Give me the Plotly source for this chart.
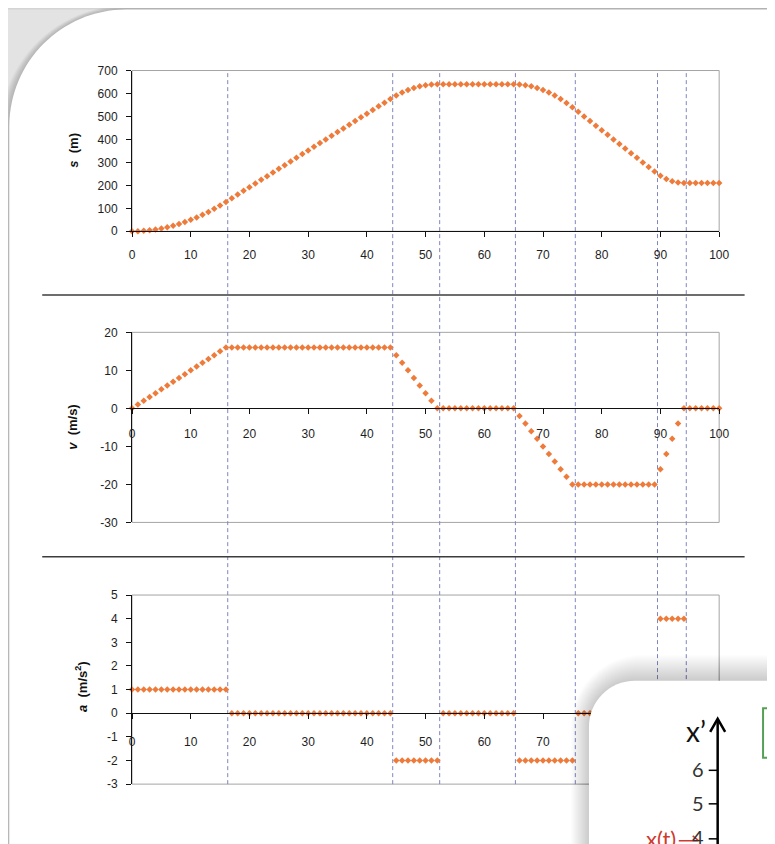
import plotly.graph_objects as go

# ---------------- data ----------------
t = list(range(101))

s = [0, 0.5, 2, 4.5, 8, 12.5, 18, 24.5, 32, 40.5, 50, 60.5, 72, 84.5, 98, 112.5, 128,
     144, 160, 176, 192, 208, 224, 240, 256, 272, 288, 304, 320, 336, 352, 368, 384,
     400, 416, 432, 448, 464, 480, 496, 512, 528, 544, 560, 576,
     591, 604, 615, 624, 631, 636, 639, 640,
     640, 640, 640, 640, 640, 640, 640, 640, 640, 640, 640, 640, 640,
     639, 636, 631, 624, 615, 604, 591, 576, 559, 540,
     520, 500, 480, 460, 440, 420, 400, 380, 360, 340, 320, 300, 280, 260,
     242, 228, 218, 212, 210,
     210, 210, 210, 210, 210, 210]

v = [0, 1, 2, 3, 4, 5, 6, 7, 8, 9, 10, 11, 12, 13, 14, 15, 16,
     16, 16, 16, 16, 16, 16, 16, 16, 16, 16, 16, 16, 16, 16, 16, 16, 16, 16, 16, 16,
     16, 16, 16, 16, 16, 16, 16, 16,
     14, 12, 10, 8, 6, 4, 2, 0,
     0, 0, 0, 0, 0, 0, 0, 0, 0, 0, 0, 0, 0,
     -2, -4, -6, -8, -10, -12, -14, -16, -18, -20,
     -20, -20, -20, -20, -20, -20, -20, -20, -20, -20, -20, -20, -20, -20,
     -16, -12, -8, -4, 0,
     0, 0, 0, 0, 0, 0]

a = [1, 1, 1, 1, 1, 1, 1, 1, 1, 1, 1, 1, 1, 1, 1, 1, 1,
     0, 0, 0, 0, 0, 0, 0, 0, 0, 0, 0, 0, 0, 0, 0, 0, 0, 0, 0, 0, 0, 0, 0, 0, 0, 0, 0, 0,
     -2, -2, -2, -2, -2, -2, -2, -2,
     0, 0, 0, 0, 0, 0, 0, 0, 0, 0, 0, 0, 0,
     -2, -2, -2, -2, -2, -2, -2, -2, -2, -2,
     0, 0, 0, 0, 0, 0, 0, 0, 0, 0, 0, 0, 0, 0,
     4, 4, 4, 4, 4,
     0, 0, 0, 0, 0, 0]

event_times = [16.3, 44.4, 52.4, 65.3, 75.5, 89.5, 94.4]

s_ticks = [0, 100, 200, 300, 400, 500, 600, 700]
v_ticks = [-30, -20, -10, 0, 10, 20]
a_ticks = [-3, -2, -1, 0, 1, 2, 3, 4, 5]
x_ticks = [0, 10, 20, 30, 40, 50, 60, 70, 80, 90, 100]
s_tick_text = ["0", "100", "200", "300", "400", "500", "600", "700"]
v_tick_text = ["-30", "-20", "-10", "0", "10", "20"]
a_tick_text = ["-3", "-2", "-1", "0", "1", "2", "3", "4", "5"]
x_tick_text = ["0", "10", "20", "30", "40", "50", "60", "70", "80", "90", "100"]

# ---------------- layout helpers ----------------
W, H = 775, 844
# the page is photographed with a small margin/scale; compensate so that
# positions given in reference-picture pixels land where they should
SX, OX = 0.9855, 9.7
SY, OY = 0.983, 14.5
def X(px):
    return ((px - OX) / SX) / W
def Y(py):
    return 1 - ((py - OY) / SY) / H

FONT = "Liberation Sans"
ORANGE = "#ef7b3b"
DASH = "#7f86bd"
FRAME = "#a4a4a4"

marker = dict(symbol="diamond", size=5, color=ORANGE, line=dict(width=0))
fig = go.Figure()
fig.add_trace(go.Scatter(x=t, y=s, mode="markers", xaxis="x", yaxis="y",
                         marker=marker, cliponaxis=False, showlegend=False))
fig.add_trace(go.Scatter(x=t, y=v, mode="markers", xaxis="x2", yaxis="y2",
                         marker=marker, cliponaxis=False, showlegend=False))
fig.add_trace(go.Scatter(x=t, y=a, mode="markers", xaxis="x3", yaxis="y3",
                         marker=marker, cliponaxis=False, showlegend=False))

xdom = [X(131), X(719.5)]
tickfont = dict(family=FONT, size=12, color="#1e1e1e")

def xax(anchor, position=None, standoff=10):
    d = dict(domain=xdom, range=[0, 100], tickvals=x_ticks, ticktext=x_tick_text,
             showline=True, linecolor="#111",
             linewidth=1, ticks="outside", ticklen=5, tickcolor="#111", showgrid=False,
             zeroline=False, tickfont=tickfont, ticklabelstandoff=standoff, fixedrange=True)
    if position is None:
        d["anchor"] = anchor
    else:
        d["anchor"] = "free"
        d["position"] = position
    return d

def yax(anchor, top, bottom, rng, ticks, texts):
    return dict(domain=[Y(bottom), Y(top)], range=rng, tickvals=ticks, ticktext=texts,
                anchor=anchor,
                showline=True, linecolor="#111", linewidth=1, ticks="outside", ticklen=5,
                tickcolor="#111", showgrid=False, zeroline=False, tickfont=tickfont,
                ticklabelstandoff=6, fixedrange=True)

fig.update_layout(
    width=W, height=H, margin=dict(l=0, r=0, t=0, b=0),
    paper_bgcolor="#e3e3e3", plot_bgcolor="rgba(0,0,0,0)",
    xaxis=xax("y", standoff=7),
    yaxis=yax("x", 70, 230.7, [0, 700], s_ticks, s_tick_text),
    xaxis2=xax(None, position=Y(407.7), standoff=9),
    yaxis2=yax("x2", 331.7, 521.7, [-30, 20], v_ticks, v_tick_text),
    xaxis3=xax(None, position=Y(712.6), standoff=12),
    yaxis3=yax("x3", 594.3, 783.3, [-3, 5], a_ticks, a_tick_text),
)

shapes = []

def card_path(left, top, right, bottom, r):
    k = 0.5523 * r
    pts = [("M", [(left, bottom)]), ("L", [(left, top + r)]),
           ("C", [(left, top + r - k), (left + r - k, top), (left + r, top)]),
           ("L", [(right, top)]), ("L", [(right, bottom)])]
    out = []
    for cmd, ps in pts:
        out.append(cmd + " " + " ".join(f"{X(px):.5f},{Y(py):.5f}" for px, py in ps))
    return " ".join(out) + " Z"

# background strip and main card with shadow
shapes.append(dict(type="rect", xref="paper", yref="paper", x0=-0.1, x1=1.1, y0=Y(9), y1=1.1,
                   fillcolor="#d4d4d4", line=dict(width=0), layer="below"))
for k in range(10, 0, -1):
    shapes.append(dict(type="path", xref="paper", yref="paper", layer="below",
                       path=card_path(8 - k, 9 - k * 0.4, 820, 900, 117 + k),
                       fillcolor="rgba(0,0,0,0.02)", line=dict(width=0)))
shapes.append(dict(type="path", xref="paper", yref="paper", layer="below",
                   path=card_path(8, 9, 820, 900, 117), fillcolor="#ffffff", line=dict(width=0)))

# plot frames
for xr, yr in [("x", "y"), ("x2", "y2"), ("x3", "y3")]:
    shapes.append(dict(type="rect", xref=xr + " domain", yref=yr + " domain", x0=0, x1=1, y0=0, y1=1,
                       line=dict(color=FRAME, width=1), fillcolor="rgba(0,0,0,0)", layer="below"))

# event dashed lines
for et in event_times:
    shapes.append(dict(type="line", xref="x", yref="paper", x0=et, x1=et, y0=Y(783.3), y1=Y(70),
                       line=dict(color=DASH, width=1, dash="4px,3px"), layer="below"))

# separators
for sy in [294.5, 556]:
    shapes.append(dict(type="line", xref="paper", yref="paper", x0=X(41), x1=X(745), y0=Y(sy), y1=Y(sy),
                       line=dict(color="#3c3c3c", width=1.5), layer="below"))

# overlay card (bottom right)
for k in range(26, 0, -1):
    shapes.append(dict(type="path", xref="paper", yref="paper", layer="above",
                       path=card_path(589 - k * 0.7, 680 - k, 820, 900, 46 + k),
                       fillcolor="rgba(0,0,0,0.0065)", line=dict(width=0)))
shapes.append(dict(type="path", xref="paper", yref="paper", layer="above",
                   path=card_path(589, 680, 820, 900, 46), fillcolor="#ffffff", line=dict(width=0)))
# arrow axis
shapes.append(dict(type="line", xref="paper", yref="paper", layer="above",
                   x0=X(718), x1=X(718), y0=Y(870), y1=Y(719), line=dict(color="#000", width=2.5)))
shapes.append(dict(type="path", xref="paper", yref="paper", layer="above",
                   path=f"M {X(710.5):.5f},{Y(731):.5f} L {X(718):.5f},{Y(718):.5f} L {X(725.5):.5f},{Y(731):.5f}",
                   line=dict(color="#000", width=2.5)))
for ty in [769.5, 803, 838]:
    shapes.append(dict(type="line", xref="paper", yref="paper", layer="above",
                       x0=X(709), x1=X(718), y0=Y(ty), y1=Y(ty), line=dict(color="#000", width=1.5)))
shapes.append(dict(type="path", xref="paper", yref="paper", layer="above",
                   path=f"M {X(679):.5f},{Y(840):.5f} L {X(698):.5f},{Y(840):.5f} M {X(693):.5f},{Y(835):.5f} L {X(699):.5f},{Y(840):.5f}",
                   line=dict(color="#d0392e", width=1.5)))
shapes.append(dict(type="rect", xref="paper", yref="paper", layer="above",
                   x0=X(763.5), x1=X(800), y0=Y(757), y1=Y(707.5),
                   line=dict(color="#55a055", width=2), fillcolor="rgba(0,0,0,0)"))
fig.update_layout(shapes=shapes)

ann = []
title_font = dict(family=FONT, size=13, color="#111")
def note(text, x, y, font, xanchor="center", angle=0):
    ann.append(dict(text=text, x=X(x), y=Y(y), xref="paper", yref="paper", xanchor=xanchor,
                    yanchor="middle", textangle=angle, showarrow=False, font=font))

note("<b><i>s</i>  (m)</b>", 72, 150, title_font, angle=-90)
note("<b><i>v</i>  (m/s)</b>", 72, 426, title_font, angle=-90)
note("<b><i>a</i>  (m/s<sup>2</sup>)</b>", 80, 686, title_font, angle=-90)
inset_font = dict(family="Lato", size=20, color="#333")
note("x’", 708, 730, dict(family="Lato", size=28, color="#111"), xanchor="right")
for lbl, ty in [("6", 768.5), ("5", 802.5), ("4", 836)]:
    note(lbl, 706, ty, inset_font, xanchor="right")
note("x(t)", 678, 838, dict(family="Lato", size=22, color="#d0392e"), xanchor="right")
note("(", 776, 790, dict(family="Lato", size=20, color="#e0e0e0"), xanchor="right")
fig.update_layout(annotations=ann)

fig.write_html("out.html")
